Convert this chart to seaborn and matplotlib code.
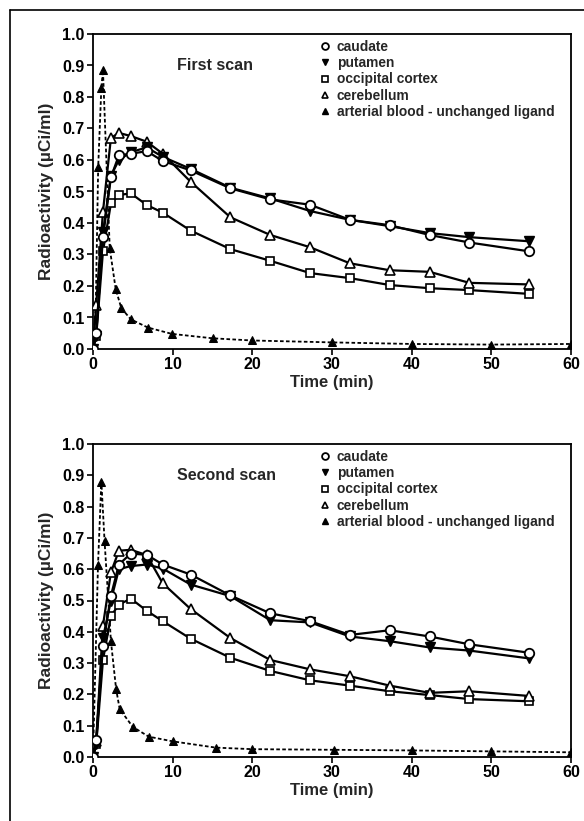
import matplotlib
matplotlib.use("Agg")
import matplotlib.pyplot as plt
from matplotlib.lines import Line2D
import seaborn as sns

sns.set_theme(style="white")
plt.rcParams['font.family'] = ['Liberation Sans', 'DejaVu Sans']
plt.rcParams['font.weight'] = 'bold'

# ---------------- data ----------------
tissue_time = [0, 0.4, 1.25, 2.25, 3.25, 4.75, 6.75, 8.75, 12.25, 17.25,
               22.25, 27.25, 32.25, 37.25, 42.25, 47.25, 54.75]

# First scan
s1_caudate = [0, 0.05, 0.355, 0.545, 0.615, 0.62, 0.628, 0.597, 0.567, 0.51,
              0.475, 0.458, 0.41, 0.393, 0.362, 0.338, 0.31]
s1_putamen = [0, 0.04, 0.37, 0.55, 0.60, 0.625, 0.64, 0.61, 0.572, 0.512,
              0.478, 0.438, 0.41, 0.39, 0.368, 0.355, 0.342]
s1_occipital = [0, 0.04, 0.31, 0.462, 0.489, 0.494, 0.457, 0.433, 0.376, 0.317,
                0.28, 0.241, 0.225, 0.203, 0.193, 0.187, 0.175]
s1_cerebellum = [0, 0.14, 0.436, 0.67, 0.686, 0.676, 0.658, 0.62, 0.531, 0.418,
                 0.362, 0.323, 0.272, 0.25, 0.245, 0.21, 0.205]
s1_blood_time = [0, 0.35, 0.65, 1.05, 1.25, 2.1, 2.85, 3.55, 4.75, 6.9, 9.9,
                 15, 20, 30, 40, 50, 60]
s1_blood = [0, 0.14, 0.577, 0.83, 0.885, 0.32, 0.19, 0.13, 0.094, 0.068, 0.048,
            0.034, 0.027, 0.021, 0.016, 0.014, 0.016]

# Second scan
s2_caudate = [0, 0.055, 0.355, 0.515, 0.615, 0.65, 0.646, 0.615, 0.583, 0.516,
              0.459, 0.434, 0.39, 0.405, 0.385, 0.36, 0.333]
s2_putamen = [0, 0.04, 0.38, 0.50, 0.60, 0.61, 0.615, 0.602, 0.551, 0.514,
              0.437, 0.43, 0.385, 0.37, 0.35, 0.34, 0.315]
s2_occipital = [0, 0.04, 0.31, 0.45, 0.487, 0.506, 0.467, 0.434, 0.378, 0.317,
                0.275, 0.245, 0.228, 0.21, 0.198, 0.185, 0.178]
s2_cerebellum = [0, 0.05, 0.42, 0.59, 0.659, 0.662, 0.645, 0.555, 0.473, 0.38,
                 0.31, 0.28, 0.258, 0.228, 0.205, 0.21, 0.195]
s2_blood_time = [0, 0.63, 1.05, 1.45, 2.25, 2.9, 3.35, 5, 7, 10, 15.4, 20,
                 30.3, 40, 50, 60]
s2_blood = [0, 0.615, 0.88, 0.69, 0.37, 0.217, 0.153, 0.096, 0.065, 0.05, 0.03,
            0.025, 0.023, 0.021, 0.018, 0.015]

labels = ["caudate", "putamen", "occipital cortex", "cerebellum",
          "arterial blood - unchanged ligand"]
panel_titles = ["First scan", "Second scan"]
x_ticks = [0, 10, 20, 30, 40, 50, 60]
y_ticks = [0.0, 0.1, 0.2, 0.3, 0.4, 0.5, 0.6, 0.7, 0.8, 0.9, 1.0]

# ---------------- figure ----------------
W, H = 584, 821
fig = plt.figure(figsize=(W / 100, H / 100), dpi=100)
fig.patch.set_facecolor("white")

# outer frame (cropped at right and bottom)
fig.add_artist(Line2D([10 / W, 1.0], [1 - 10 / H, 1 - 10 / H], color="black", lw=1.2,
                      transform=fig.transFigure))
fig.add_artist(Line2D([10 / W, 10 / W], [1 - 10 / H, 0.0], color="black", lw=1.2,
                      transform=fig.transFigure))

def px_axes(left, top, right, bottom):
    return [left / W, 1 - bottom / H, (right - left) / W, (bottom - top) / H]

axes = [fig.add_axes(px_axes(93, 34, 571, 349)),
        fig.add_axes(px_axes(93, 444, 571, 757))]

styles = {
    "caudate": dict(marker="o", markersize=6.8, markerfacecolor="white",
                    markeredgecolor="black", markeredgewidth=1.3),
    "putamen": dict(marker="v", markersize=6.5, markerfacecolor="black",
                    markeredgecolor="black", markeredgewidth=1.0),
    "occipital cortex": dict(marker="s", markersize=5.2, markerfacecolor="white",
                             markeredgecolor="black", markeredgewidth=1.2),
    "cerebellum": dict(marker="^", markersize=6.8, markerfacecolor="white",
                       markeredgecolor="black", markeredgewidth=1.2),
    "arterial blood - unchanged ligand": dict(marker="^", markersize=6.2,
                                              markerfacecolor="black",
                                              markeredgecolor="black"),
}

datasets = [
    (s1_caudate, s1_putamen, s1_occipital, s1_cerebellum, s1_blood_time, s1_blood),
    (s2_caudate, s2_putamen, s2_occipital, s2_cerebellum, s2_blood_time, s2_blood),
]

for ax, (cau, put, occ, cer, bt, bl), title in zip(axes, datasets, panel_titles):
    # blood (dotted)
    sns.lineplot(x=bt, y=bl, ax=ax, color="black", lw=1.3,
                 linestyle=(0, (2, 1.3)), estimator=None, sort=False,
                 zorder=2, **styles[labels[4]])
    for vals, lab, z in [(occ, labels[2], 3), (cer, labels[3], 4),
                         (put, labels[1], 5), (cau, labels[0], 6)]:
        sns.lineplot(x=tissue_time, y=vals, ax=ax, color="black", lw=1.6,
                     estimator=None, sort=False, zorder=z, **styles[lab])

    ax.set_xlim(0, 60)
    ax.set_ylim(0, 1.0)
    ax.set_xticks(x_ticks)
    ax.set_yticks(y_ticks)
    ax.set_xticklabels([str(v) for v in x_ticks], fontsize=11.5, fontweight="bold")
    ax.set_yticklabels([f"{v:.1f}" for v in y_ticks], fontsize=11.5, fontweight="bold")
    ax.tick_params(axis="both", direction="out", length=4, width=1.2,
                   colors="black", pad=2, left=True, bottom=True)
    for sp in ax.spines.values():
        sp.set_visible(True)
        sp.set_color("black")
        sp.set_linewidth(1.3)
    ax.set_xlabel("Time (min)", fontsize=12, fontweight="bold", labelpad=2)
    ax.set_ylabel("Radioactivity (\u00b5Ci/ml)", fontsize=12.5, fontweight="bold",
                  labelpad=6)
    ax.grid(False)
    ax.set_facecolor("white")

    ax.text(10.5, 0.9, title, fontsize=11.5, fontweight="bold", va="center",
            ha="left")

    handles = []
    for lab in labels:
        st = dict(styles[lab])
        st["markersize"] = st["markersize"] * 0.72
        handles.append(Line2D([], [], linestyle="none", color="black", **st))
    ax.legend(handles, labels, loc="upper left", bbox_to_anchor=(0.455, 1.008),
              frameon=False, prop=dict(size=9.9, weight="bold"),
              handletextpad=0.4, labelspacing=0.17, handlelength=0.9,
              borderaxespad=0.2)

fig.savefig("out.png", dpi=100, facecolor="white")
